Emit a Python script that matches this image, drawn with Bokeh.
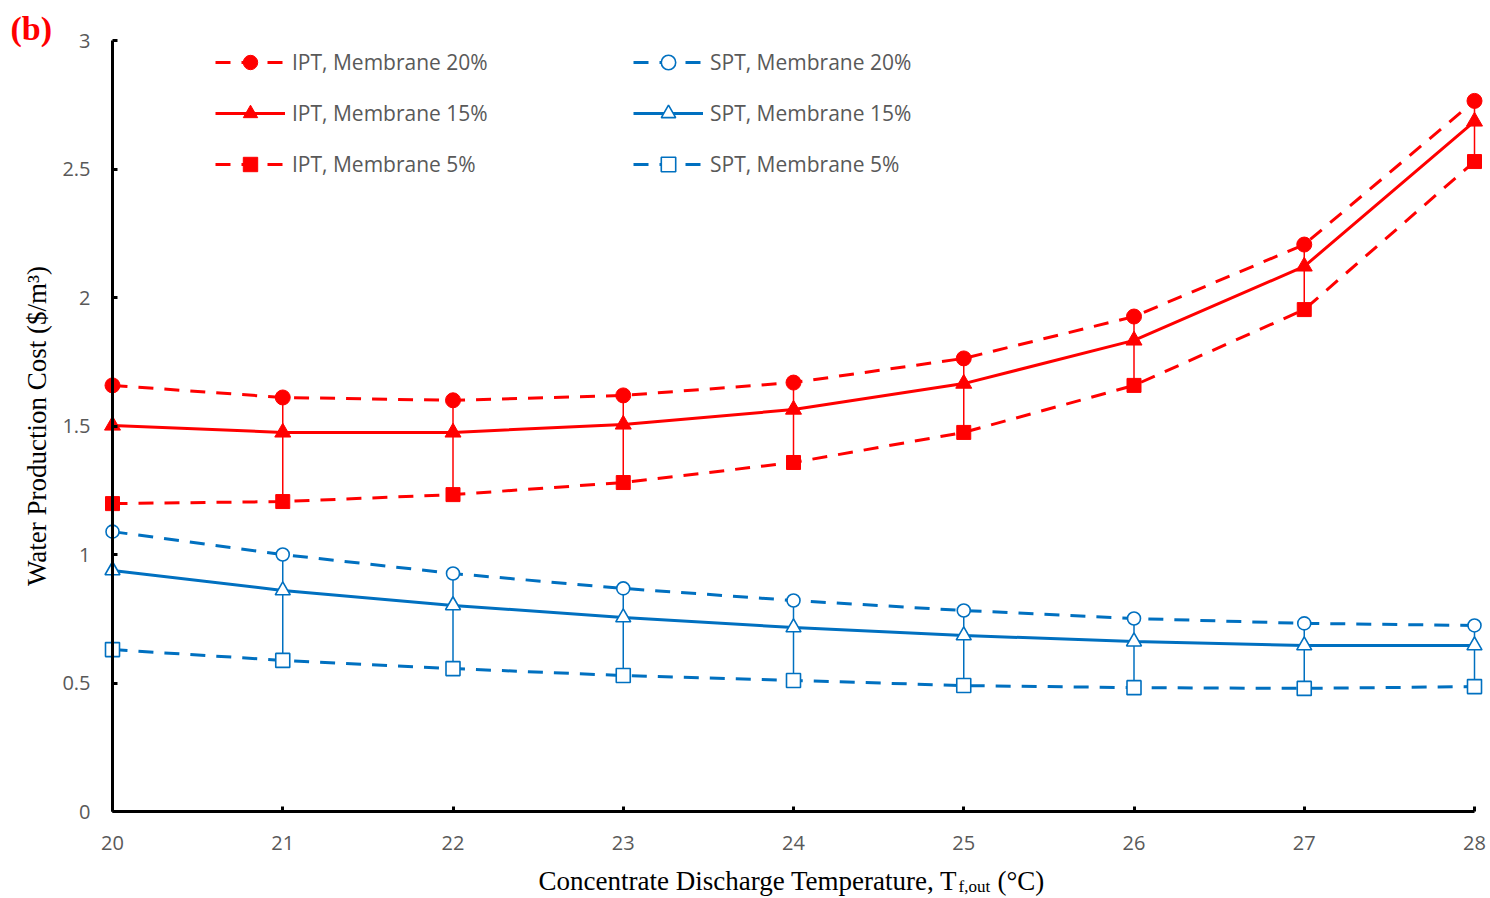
from bokeh.plotting import figure
from bokeh.models import Legend, LegendItem, Label, Range1d, FixedTicker
from bokeh.embed import file_html
from bokeh.resources import INLINE

temps = [20, 21, 22, 23, 24, 25, 26, 27, 28]
ipt_20 = [1.658, 1.611, 1.600, 1.619, 1.669, 1.763, 1.926, 2.206, 2.765]
ipt_15 = [1.502, 1.475, 1.475, 1.506, 1.564, 1.665, 1.833, 2.121, 2.685]
ipt_5 = [1.198, 1.206, 1.233, 1.280, 1.358, 1.475, 1.658, 1.953, 2.529]
spt_20 = [1.089, 1.000, 0.926, 0.868, 0.821, 0.782, 0.751, 0.732, 0.724]
spt_15 = [0.938, 0.860, 0.802, 0.755, 0.716, 0.685, 0.661, 0.646, 0.646]
spt_5 = [0.630, 0.588, 0.556, 0.529, 0.510, 0.490, 0.482, 0.479, 0.486]
y_ticks = [0, 0.5, 1, 1.5, 2, 2.5, 3]

RED = "#FF0000"
BLUE = "#0070C0"
TICK_FONT = "Open Sans"
SERIF = "Liberation Serif"

W, H = 1490, 898
# layout of the plotting area in pixels (axes meet at px (112, 811))
X0_PX, Y0_PX = 112, 811
PX_PER_X = 1362 / 8.0
PX_PER_Y = 771 / 3.0


def dx(px):
    return 20 + (px - X0_PX) / PX_PER_X


def dy(py):
    return (Y0_PX - py) / PX_PER_Y


# The frame fills the whole canvas so that nothing (axes, labels, edge markers) gets clipped;
# axes are pinned at x=20 and y=0.
p = figure(width=W, height=H, output_backend="svg", toolbar_location=None,
           x_range=Range1d(dx(0), dx(W)), y_range=Range1d(dy(H), dy(0)),
           min_border_left=0, min_border_right=0, min_border_top=0, min_border_bottom=0)
p.outline_line_color = None
p.xgrid.visible = False
p.ygrid.visible = False
p.background_fill_color = "white"
p.border_fill_color = "white"

for ax in (p.xaxis[0], p.yaxis[0]):
    ax.axis_line_width = 3
    ax.axis_line_color = "black"
    ax.major_tick_line_width = 3
    ax.major_tick_line_color = "black"
    ax.major_tick_in = 5
    ax.major_tick_out = 0
    ax.minor_tick_line_color = None
    ax.major_label_text_font = TICK_FONT
    ax.major_label_text_font_size = "20px"
    ax.major_label_text_color = "#595959"

p.xaxis.ticker = FixedTicker(ticks=temps)
p.xaxis.bounds = (20, 28)
p.xaxis.fixed_location = 0
p.yaxis.ticker = FixedTicker(ticks=y_ticks)
p.yaxis.bounds = (0, 3)
p.yaxis.fixed_location = 20
p.yaxis.major_label_overrides = {t: ("%g" % t) for t in y_ticks}
p.xaxis.major_label_standoff = 24
p.yaxis.major_label_standoff = 22

p.yaxis.axis_label = "Water Production Cost ($/m³)"
p.yaxis.axis_label_text_font = SERIF
p.yaxis.axis_label_text_font_style = "normal"
p.yaxis.axis_label_text_font_size = "27px"
p.yaxis.axis_label_text_color = "black"
p.yaxis.axis_label_standoff = 7

# error bars (range between 20% and 5%)
p.segment(x0=temps, y0=ipt_20, x1=temps, y1=ipt_5, line_color=RED, line_width=1.5)
p.segment(x0=temps, y0=spt_20, x1=temps, y1=spt_5, line_color=BLUE, line_width=1.5)

dash = "15 11"
l1 = p.line(temps, ipt_20, line_color=RED, line_width=3, line_dash=dash)
m1 = p.scatter(temps, ipt_20, marker="circle", size=15, fill_color=RED, line_color=RED)
l2 = p.line(temps, ipt_15, line_color=RED, line_width=3)
m2 = p.scatter(temps, ipt_15, marker="triangle", size=16, fill_color=RED, line_color=RED)
l3 = p.line(temps, ipt_5, line_color=RED, line_width=3, line_dash=dash)
m3 = p.scatter(temps, ipt_5, marker="square", size=14, fill_color=RED, line_color=RED)

l4 = p.line(temps, spt_20, line_color=BLUE, line_width=3, line_dash=dash)
m4 = p.scatter(temps, spt_20, marker="circle", size=13, fill_color="white", line_color=BLUE, line_width=1.6)
l5 = p.line(temps, spt_15, line_color=BLUE, line_width=3)
m5 = p.scatter(temps, spt_15, marker="triangle", size=15, fill_color="white", line_color=BLUE, line_width=1.6)
l6 = p.line(temps, spt_5, line_color=BLUE, line_width=3, line_dash=dash)
m6 = p.scatter(temps, spt_5, marker="square", size=14, fill_color="white", line_color=BLUE, line_width=1.6)


def make_legend(items, loc):
    lg = Legend(items=items, location=loc, orientation="vertical")
    lg.border_line_color = None
    lg.background_fill_alpha = 0
    lg.padding = 0
    lg.margin = 0
    lg.glyph_width = 70
    lg.glyph_height = 36
    lg.label_height = 36
    lg.spacing = 15
    lg.label_standoff = 7
    lg.label_text_font = TICK_FONT
    lg.label_text_font_size = "21px"
    lg.label_text_color = "#595959"
    lg.label_text_baseline = "middle"
    return lg


# legend positions: offsets from the frame's bottom-left corner (frame = whole canvas)
leg1 = make_legend([
    LegendItem(label="IPT, Membrane 20%", renderers=[l1, m1]),
    LegendItem(label="IPT, Membrane 15%", renderers=[l2, m2]),
    LegendItem(label="IPT, Membrane 5%", renderers=[l3, m3]),
], (215, H - 182))
leg2 = make_legend([
    LegendItem(label="SPT, Membrane 20%", renderers=[l4, m4]),
    LegendItem(label="SPT, Membrane 15%", renderers=[l5, m5]),
    LegendItem(label="SPT, Membrane 5%", renderers=[l6, m6]),
], (633, H - 182))
p.add_layout(leg1)
p.add_layout(leg2)


def dlabel(px, py, text, size, align="left", style="normal", color="black"):
    return Label(x=dx(px), y=dy(py), text=text, text_align=align,
                 text_baseline="alphabetic", text_font=SERIF, text_font_style=style,
                 text_font_size=size, text_color=color)


# (alphabetic baselines render ~9px low, so positions are compensated)
p.add_layout(dlabel(957, 880, "Concentrate Discharge Temperature, T", "27px", align="right"))
p.add_layout(dlabel(958, 886, "f,out", "17px"))
p.add_layout(dlabel(997, 880, "(°C)", "27px"))
p.add_layout(dlabel(10, 28, "(b)", "34px", style="bold", color=RED))

open("out.html", "w").write(file_html(p, INLINE))
